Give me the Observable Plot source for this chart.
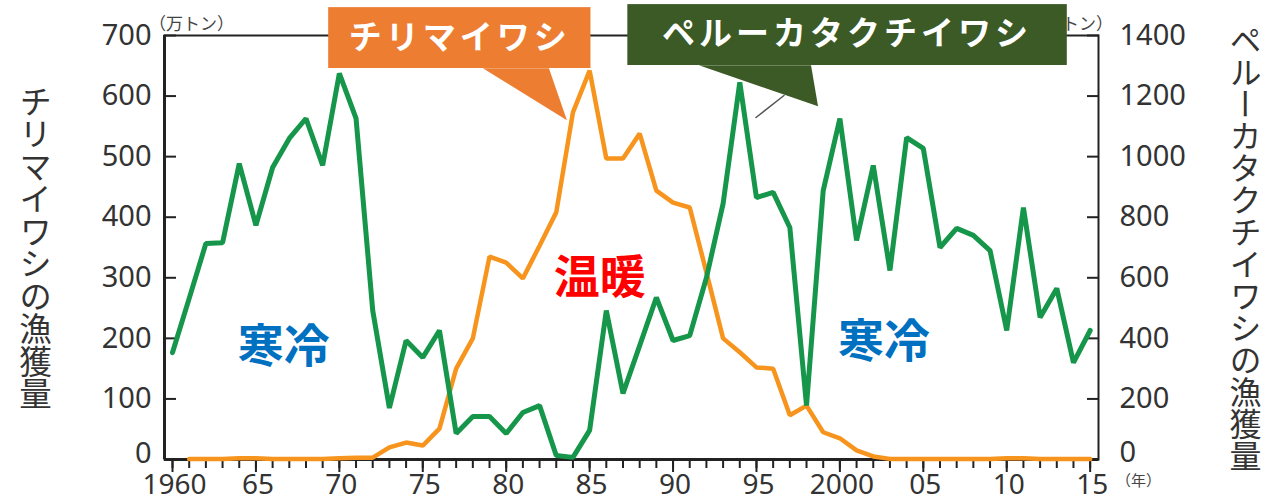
<!DOCTYPE html>
<html><head><meta charset="utf-8">
<script src="https://cdn.jsdelivr.net/npm/d3@7"></script>
<script src="https://cdn.jsdelivr.net/npm/@observablehq/plot@0.6"></script>
<style>
html,body{margin:0;padding:0;background:#fff;}
#chart svg{display:block;}
</style>
</head><body><div id="chart"></div>
<script>
// ---- data ----
const years = [1960,1961,1962,1963,1964,1965,1966,1967,1968,1969,
  1970,1971,1972,1973,1974,1975,1976,1977,1978,1979,
  1980,1981,1982,1983,1984,1985,1986,1987,1988,1989,
  1990,1991,1992,1993,1994,1995,1996,1997,1998,1999,
  2000,2001,2002,2003,2004,2005,2006,2007,2008,2009,
  2010,2011,2012,2013,2014,2015];
// チリマイワシ 漁獲量（万トン, left axis)
const chileSardine = [null,1,1,1,2,2,1,1,1,1,
  2,3,3,20,28,23,51,150,200,335,
  325,299,353,408,573,642,497,497,538,444,
  424,416,309,200,177,152,150,73,89,45,
  35,15,5,1,1,1,1,1,1,1,
  2,2,1,1,1,1];
// ペルーカタクチイワシ 漁獲量（万トン, right axis)
const peruAnchovy = [353,532,713,716,977,773,964,1060,1126,971,
  1275,1126,492,170,393,337,426,86,142,142,
  86,155,178,13,7,96,492,218,376,535,
  393,409,600,845,1245,865,882,766,178,888,
  1126,723,971,624,1063,1027,700,763,740,690,
  426,832,469,565,320,426];
const leftTicks = [0,100,200,300,400,500,600,700];
const rightTicks = [0,200,400,600,800,1000,1200,1400];
const majorYears = [1960,1965,1970,1975,1980,1985,1990,1995,2000,2005,2010,2015];
const majorYearLabels = ["1960","65","70","75","80","85","90","95","2000","05","10","15"];
const seriesNames = ["チリマイワシ","ペルーカタクチイワシ"];
const leftTitle = "チリマイワシの漁獲量";
const rightTitle = "ペルーカタクチイワシの漁獲量";
const unitLabel = "（万トン）";
const yearUnit = "（年）";
const climateLabels = ["寒冷","温暖","寒冷"];

// ---- annotation placement (data coordinates) ----
const climateX = [1966.66, 1985.6, 2002.65];
const climateY = [185, 300, 193];
const climateColors = ["#0070C0","#FF0000","#0070C0"];
const chileBox = {x1:1969.36, x2:1985.08, y1:645.5, y2:746};
const chilePointer = [{x:1978.6,y:646},{x:1982.56,y:646},{x:1983.64,y:560}];
const chileText = {x:1977.22, y:695};
const peruBox = {x1:1987.29, x2:2013.63, y1:650.5, y2:751};
const peruPointer = [{x:1991.55,y:651},{x:1998.27,y:651},{x:1998.69,y:583}];
const peruText = {x:2000.43, y:702};
const leader = [{x:1994.97,y:564.6},{x:1996.65,y:601}];

const xDomain = [1959.52, 2015.5];
const y2 = d3.scaleLinear([0,1400],[0,700]);
const chileData = years.map((yr,i)=>({year:yr, value:chileSardine[i]}));
const peruData = years.map((yr,i)=>({year:yr, value:peruAnchovy[i]}));
const climateData = climateLabels.map((t,i)=>({t, x:climateX[i], y:climateY[i], c:climateColors[i]}));

const NUM = "'Noto Sans', 'DejaVu Sans', sans-serif";
const JP = "'Noto Sans CJK JP', sans-serif";
const AX = "#222";
const TXT = "#333";
const LS = 4; // letter spacing of tick labels

const leftLabelOpts = {anchor:"left", tickSize:0, tickPadding:17 - LS, fontSize:29, fill:TXT, ariaLabel:"ticklabels"};
const rightLabelOpts = {anchor:"right", y: y2, tickSize:0, tickPadding:21, fontSize:29, fill:TXT, tickFormat: d=>String(d), ariaLabel:"ticklabels"};

const chart = Plot.plot({
  width: 1266, height: 503,
  marginLeft: 164, marginRight: 168, marginTop: 35, marginBottom: 44,
  style: {fontFamily: NUM, color: TXT, background: "#fff", overflow: "visible"},
  x: {domain: xDomain, axis: null, label: null},
  y: {domain: [0,700], axis: null, label: null},
  marks: [
    Plot.frame({stroke: AX, strokeWidth: 2}),
    Plot.ruleX([xDomain[0]], {stroke: AX, strokeWidth: 3}),
    Plot.ruleY([0], {stroke: AX, strokeWidth: 3}),
    // left axis
    Plot.axisY(leftTicks, {anchor:"left", tickSize:12, dx:12, tickFormat:()=>"", stroke:AX, strokeWidth:2}),
    Plot.axisY(leftTicks.slice(1), leftLabelOpts),
    Plot.axisY(leftTicks.slice(0,1), {...leftLabelOpts, dy:-6}),
    // right axis
    Plot.axisY(rightTicks, {anchor:"right", y: y2, tickSize:12, dx:-12, tickFormat:()=>"", stroke:AX, strokeWidth:2}),
    Plot.axisY(rightTicks.slice(1), rightLabelOpts),
    Plot.axisY(rightTicks.slice(0,1), {...rightLabelOpts, dy:-7}),
    // x axis
    Plot.axisX(years, {anchor:"bottom", tickSize:9, tickFormat:()=>"", stroke:AX, strokeWidth:2}),
    Plot.axisX(majorYears, {anchor:"bottom", tickSize:13, tickFormat:()=>"", stroke:AX, strokeWidth:2}),
    Plot.axisX(majorYears, {anchor:"bottom", tickSize:0, tickPadding:15, dx: LS/2, fontSize:28, fill:TXT, ariaLabel:"ticklabels",
      tickFormat: d => majorYearLabels[majorYears.indexOf(d)]}),
    // series
    Plot.line(chileData, {x:"year", y:"value", stroke:"#F7941D", strokeWidth:4.5, strokeLinejoin:"miter"}),
    Plot.line(peruData, {x:"year", y: d => y2(d.value), stroke:"#16964A", strokeWidth:5, strokeLinejoin:"miter"}),
    // climate labels
    Plot.text(climateData, {x:"x", y:"y", text:"t", fill: d=>d.c, fontSize:46, fontWeight:"bold", fontFamily: JP}),
    // unit labels
    Plot.text([unitLabel], {frameAnchor:"top-left", dx:27, dy:-18, fontSize:17, fill:"#444", fontFamily: JP, textAnchor:"middle"}),
    Plot.text([unitLabel], {frameAnchor:"top-right", dx:-28, dy:-18, fontSize:17, fill:"#444", fontFamily: JP, textAnchor:"middle"}),
    Plot.text([yearUnit], {frameAnchor:"bottom-right", dx:40, dy:26, fontSize:15, fill:"#444", fontFamily: JP, textAnchor:"middle"}),
    // leader line
    Plot.line(leader, {x:"x", y:"y", stroke:"#555", strokeWidth:1.5}),
    // callouts
    Plot.rect([chileBox], {x1:"x1", x2:"x2", y1:"y1", y2:"y2", fill:"#ED7D31"}),
    Plot.line(chilePointer, {x:"x", y:"y", fill:"#ED7D31", stroke:"none"}),
    Plot.text([chileText], {x:"x", y:"y", text:()=>seriesNames[0], fill:"#fff", fontSize:33, fontWeight:"bold", fontFamily: JP}),
    Plot.rect([peruBox], {x1:"x1", x2:"x2", y1:"y1", y2:"y2", fill:"#3B5A25"}),
    Plot.line(peruPointer, {x:"x", y:"y", fill:"#3B5A25", stroke:"none"}),
    Plot.text([peruText], {x:"x", y:"y", text:()=>seriesNames[1], fill:"#fff", fontSize:33, fontWeight:"bold", fontFamily: JP}),
    // vertical axis titles
    Plot.text([leftTitle], {frameAnchor:"left", dx:-129, fontSize:32.5, fill:TXT, fontFamily: JP, textAnchor:"middle"}),
    Plot.text([rightTitle], {frameAnchor:"right", dx:147, fontSize:32, fill:TXT, fontFamily: JP, textAnchor:"middle"})
  ]
});
document.getElementById("chart").appendChild(chart);

// vertical writing for axis titles, letter spacing for callouts and tick labels
const svg = d3.select(chart);
svg.selectAll("text").filter(function(){ return this.textContent === leftTitle || this.textContent === rightTitle; })
  .style("writing-mode","vertical-rl").attr("y", null).attr("dy", null);
svg.selectAll("text").filter(function(){ return seriesNames.includes(this.textContent); })
  .style("letter-spacing","4px");
svg.selectAll('g[aria-label="ticklabels"] text').style("letter-spacing", LS + "px");
</script>
</body></html>
